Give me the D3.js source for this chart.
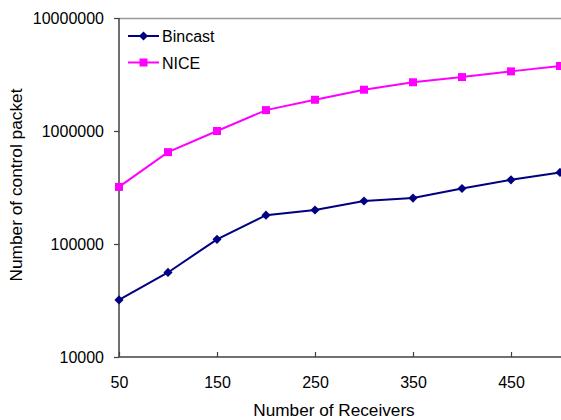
<!DOCTYPE html>
<html>
<head>
<meta charset="utf-8">
<script src="https://cdn.jsdelivr.net/npm/d3@7"></script>
<style>
  body { margin: 0; background: #fff; }
  text { font-family: "Liberation Sans", Arial, sans-serif; fill: #000; }
</style>
</head>
<body>
<div id="chart"></div>
<script>
// data
var receivers = [50, 100, 150, 200, 250, 300, 350, 400, 450, 500];
var bincast = [32000, 56000, 110000, 180000, 200000, 240000, 255000, 310000, 370000, 430000];
var nice = [320000, 650000, 1000000, 1530000, 1890000, 2320000, 2700000, 3000000, 3370000, 3760000];
var xTicks = [50, 150, 250, 350, 450];
var yTicks = [10000, 100000, 1000000, 10000000];

var W = 561, H = 420;
var margin = {top: 18, right: 1, bottom: 63, left: 119};

var svg = d3.select("#chart")
  .append("svg")
    .attr("width", W)
    .attr("height", H);

var x = d3.scaleLinear()
  .domain([50, 500])
  .range([margin.left, 560]);

var y = d3.scaleLog()
  .domain([10000, 10000000])
  .range([357, margin.top]);

// top frame line
svg.append("line")
  .attr("x1", margin.left).attr("x2", W)
  .attr("y1", margin.top + 0.5).attr("y2", margin.top + 0.5)
  .attr("stroke", "#999").attr("stroke-width", 1.5);

// y axis
var yAxis = svg.append("g")
  .attr("transform", "translate(" + margin.left + ",0)")
  .call(d3.axisLeft(y).tickValues(yTicks).tickSize(5).tickPadding(10)
    .tickFormat(d3.format("d")));
yAxis.select(".domain").attr("stroke", "#404040").attr("stroke-width", 1.5)
  .attr("d", "M0," + margin.top + "V357");
yAxis.selectAll(".tick line").attr("stroke", "#404040").attr("stroke-width", 1.2);
yAxis.selectAll(".tick text").style("font-size", "16px").attr("fill", "#000");

// x axis, ticks pointing inward
var xAxis = svg.append("g")
  .attr("transform", "translate(0,357)")
  .call(d3.axisBottom(x).tickValues(xTicks).tickSize(-5).tickPadding(20));
xAxis.select(".domain").attr("stroke", "#404040").attr("stroke-width", 1.5)
  .attr("d", "M" + margin.left + ",0H" + W);
xAxis.selectAll(".tick line").attr("stroke", "#404040").attr("stroke-width", 1.2);
xAxis.selectAll(".tick text").style("font-size", "16px").attr("fill", "#000");

// axis titles
svg.append("text")
  .attr("x", 334).attr("y", 416)
  .attr("text-anchor", "middle")
  .style("font-size", "17.2px")
  .text("Number of Receivers");

svg.append("text")
  .attr("transform", "translate(22,185)rotate(-90)")
  .attr("text-anchor", "middle")
  .style("font-size", "17.3px")
  .text("Number of control packet");

var line = d3.line()
  .x(function(d){ return x(d[0]) })
  .y(function(d){ return y(d[1]) });

// diamond = square turned 45 degrees
var series = [
  {name: "Bincast", values: bincast, color: "#000080", size: 42, rot: 45},
  {name: "NICE", values: nice, color: "#FF00FF", size: 64, rot: 0}
];

series.forEach(function(s) {
  var pts = receivers.map(function(r, i){ return [r, s.values[i]] });
  svg.append("path")
    .datum(pts)
    .attr("d", line)
    .attr("fill", "none")
    .attr("stroke", s.color)
    .attr("stroke-width", 2);
  svg.selectAll(null)
    .data(pts)
    .enter()
    .append("path")
      .attr("d", d3.symbol().type(d3.symbolSquare).size(s.size))
      .attr("transform", function(d){ return "translate(" + x(d[0]) + "," + y(d[1]) + ")rotate(" + s.rot + ")" })
      .attr("fill", s.color);
});

// legend
var legend = svg.append("g");
series.forEach(function(s, i) {
  var ly = 36 + i * 26.5;
  legend.append("line")
    .attr("x1", 128).attr("x2", 159)
    .attr("y1", ly).attr("y2", ly)
    .attr("stroke", s.color).attr("stroke-width", 2);
  legend.append("path")
    .attr("d", d3.symbol().type(d3.symbolSquare).size(s.size))
    .attr("transform", "translate(143.5," + ly + ")rotate(" + s.rot + ")")
    .attr("fill", s.color);
  legend.append("text")
    .attr("x", 162).attr("y", ly + 6)
    .style("font-size", "16px")
    .text(s.name);
});
</script>
</body>
</html>
